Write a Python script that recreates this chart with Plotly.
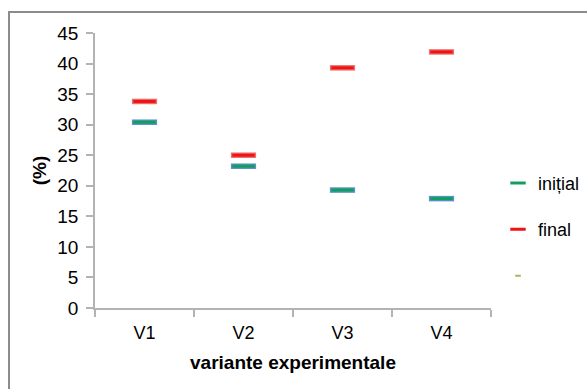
import plotly.graph_objects as go

# Experimental variants and measured percentages
variants = ["V1", "V2", "V3", "V4"]
initial_vals = [30.4, 23.2, 19.3, 17.9]
final_vals = [33.8, 25.0, 39.3, 41.9]
y_ticks = [0, 5, 10, 15, 20, 25, 30, 35, 40, 45]

FONT = "Liberation Sans, Arial, sans-serif"

fig = go.Figure()

def dash_series(name, values, fill, edge, group):
    # outline dash underneath, filled dash on top
    fig.add_trace(go.Scatter(
        x=variants, y=values, mode="markers", legendgroup=group,
        showlegend=False, hoverinfo="skip",
        marker=dict(symbol="line-ew", size=18, line=dict(width=5.5, color=edge)),
    ))
    fig.add_trace(go.Scatter(
        x=variants, y=values, mode="markers", legendgroup=group,
        showlegend=False,
        marker=dict(symbol="line-ew", size=16, line=dict(width=3, color=fill)),
    ))
    # shorter key symbol for the legend
    fig.add_trace(go.Scatter(
        x=[None], y=[None], mode="markers", name=name, legendgroup=group,
        marker=dict(symbol="line-ew", size=11, line=dict(width=3, color=fill)),
    ))

dash_series("inițial", initial_vals, "#11a05c", "#5b8fcf", "g1")
dash_series("final", final_vals, "#f21212", "#e87070", "g2")

# third (empty) legend entry
fig.add_trace(go.Scatter(
    x=[None], y=[None], mode="markers", name=" ", legendgroup="g3",
    marker=dict(symbol="line-ew", size=4, line=dict(width=2, color="#9bbb59")),
))

fig.update_layout(
    width=587, height=389,
    margin=dict(l=95, r=96, t=33, b=81, autoexpand=False),
    paper_bgcolor="white", plot_bgcolor="white",
    font=dict(family=FONT, size=18, color="#000000"),
    legend=dict(
        x=1.0177, xanchor="left", y=0.521, yanchor="top",
        font=dict(family=FONT, size=18, color="#000000"),
        tracegroupgap=20, itemwidth=30,
        bgcolor="rgba(0,0,0,0)",
    ),
    xaxis=dict(
        type="category", range=[-0.5, 3.5],
        showgrid=False, zeroline=False,
        showline=True, linecolor="#b3b3b3", linewidth=1.5,
        ticks="outside", ticklen=7, tickcolor="#b3b3b3", tickwidth=1.5,
        tickson="boundaries", ticklabelstandoff=8,
        tickfont=dict(family=FONT, size=18),
        title=dict(text="<b>variante experimentale</b>", font=dict(family=FONT, size=19), standoff=13),
    ),
    yaxis=dict(
        range=[0, 45], tickvals=y_ticks,
        showgrid=False, zeroline=False,
        showline=True, linecolor="#b3b3b3", linewidth=1.5,
        ticks="outside", ticklen=7, tickcolor="#b3b3b3", tickwidth=1.5,
        ticklabelstandoff=4,
        tickfont=dict(family=FONT, size=19),
        title=dict(text="<b>(%)</b>", font=dict(family=FONT, size=19), standoff=6),
    ),
    shapes=[dict(
        type="path", xref="paper", yref="paper",
        path="M -0.2172,-0.5 L -0.2172,1.0764 L 1.6,1.0764",
        line=dict(color="#8c8c8c", width=2),
    )],
)

fig.write_html("out.html")
